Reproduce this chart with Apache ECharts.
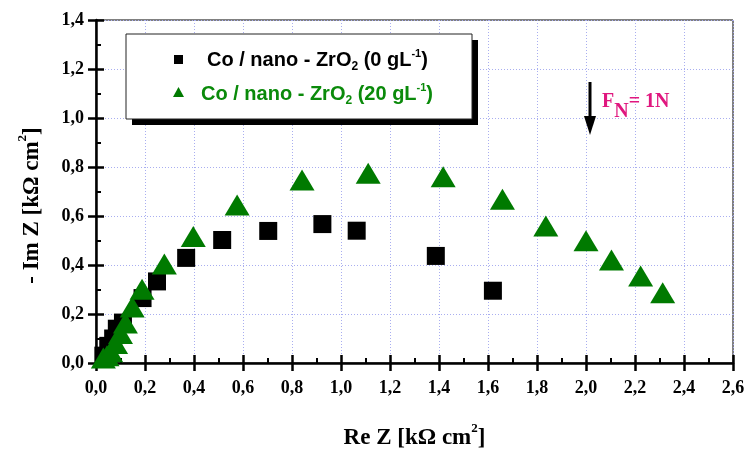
<!DOCTYPE html>
<html>
<head>
<meta charset="utf-8">
<script src="https://cdn.jsdelivr.net/npm/echarts@6/dist/echarts.min.js"></script>
<style>
  html, body { margin: 0; padding: 0; background: #fff; }
  #chart { width: 745px; height: 449px; }
</style>
</head>
<body>
<div id="chart"></div>
<script>
// Nyquist data: Re Z / -Im Z in kΩ cm²
const reZ_0 = [0.03, 0.05, 0.07, 0.085, 0.11, 0.19, 0.249, 0.368, 0.515, 0.703, 0.924, 1.064, 1.387, 1.62];
const imZ_0 = [0.03, 0.07, 0.10, 0.14, 0.165, 0.265, 0.333, 0.429, 0.502, 0.539, 0.567, 0.540, 0.437, 0.295];

const reZ_20 = [0.03, 0.045, 0.06, 0.08, 0.10, 0.12, 0.148, 0.188, 0.279, 0.397, 0.576, 0.841, 1.111, 1.417, 1.659, 1.836, 2.0, 2.104, 2.223, 2.313];
const imZ_20 = [0.02, 0.03, 0.046, 0.08, 0.12, 0.163, 0.229, 0.301, 0.404, 0.516, 0.645, 0.747, 0.774, 0.760, 0.668, 0.559, 0.499, 0.420, 0.355, 0.287];

const xTicks = { min: 0, max: 2.6, interval: 0.2 };
const yTicks = { min: 0, max: 1.4, interval: 0.2 };

const pairs = (xs, ys) => xs.map((x, i) => [x, ys[i]]);
const comma = v => v.toFixed(1).replace('.', ',');

const serif = 'Liberation Serif, Times New Roman, serif';
const serifBold = { fontFamily: serif, fontWeight: 'bold', color: '#000' };
const sansBold = 'Liberation Sans, Arial, sans-serif';
const gridLine = { show: true, lineStyle: { color: '#a9aef0', type: [1, 2], width: 1 } };

const nameRich = {
  t: { ...serifBold, fontSize: 23, verticalAlign: 'bottom', lineHeight: 28 },
  s: { ...serifBold, fontSize: 13, verticalAlign: 'top', padding: [0, 0, 10, 0] }
};

const chart = echarts.init(document.getElementById('chart'), null, { renderer: 'canvas' });

const option = {
  animation: false,
  backgroundColor: '#fff',
  grid: {
    left: 96, right: 12, top: 20, bottom: 86,
    outerBoundsMode: 'none', containLabel: false,
    show: true, borderColor: '#000', borderWidth: 1, backgroundColor: 'transparent'
  },
  xAxis: [
    {
      type: 'value', position: 'bottom', ...xTicks,
      axisLine: { show: true, lineStyle: { color: '#000', width: 2.5 } },
      axisTick: { show: true, inside: false, length: 8, lineStyle: { color: '#000', width: 2.5 } },
      minorTick: { show: false },
      axisLabel: { ...serifBold, fontSize: 18, margin: 16, formatter: comma },
      splitLine: gridLine,
      name: '{t|Re Z [kΩ cm}{s|2}{t|]}',
      nameLocation: 'middle', nameGap: 59,
      nameTextStyle: { rich: nameRich }
    },
    {
      type: 'value', position: 'bottom', ...xTicks,
      axisLine: { show: false },
      axisTick: { show: true, inside: true, length: 8, lineStyle: { color: '#000', width: 2.5 } },
      minorTick: { show: true, splitNumber: 2, length: 5, lineStyle: { color: '#000', width: 2 } },
      axisLabel: { show: false },
      splitLine: { show: false }
    }
  ],
  yAxis: [
    {
      type: 'value', position: 'left', ...yTicks,
      axisLine: { show: true, lineStyle: { color: '#000', width: 2.5 } },
      axisTick: { show: true, inside: false, length: 8, lineStyle: { color: '#000', width: 2.5 } },
      minorTick: { show: false },
      axisLabel: { ...serifBold, fontSize: 18, margin: 12, formatter: comma },
      splitLine: gridLine,
      name: '{t|- Im Z [kΩ cm}{s|2}{t|]}',
      nameLocation: 'middle', nameGap: 52, nameRotate: 90,
      nameTextStyle: { rich: nameRich, padding: [0, 28, 0, 0] }
    },
    {
      type: 'value', position: 'left', ...yTicks,
      axisLine: { show: false },
      axisTick: { show: true, inside: true, length: 8, lineStyle: { color: '#000', width: 2.5 } },
      minorTick: { show: true, splitNumber: 2, length: 5, lineStyle: { color: '#000', width: 2 } },
      axisLabel: { show: false },
      splitLine: { show: false }
    }
  ],
  series: [
    {
      name: 'Co / nano - ZrO2 (0 gL-1)',
      type: 'scatter',
      data: pairs(reZ_0, imZ_0),
      symbol: 'rect', symbolSize: 18,
      itemStyle: { color: '#000', opacity: 1 },
      z: 3
    },
    {
      name: 'Co / nano - ZrO2 (20 gL-1)',
      type: 'scatter',
      data: pairs(reZ_20, imZ_20),
      symbol: 'triangle', symbolSize: [25, 21],
      itemStyle: { color: '#007a00', opacity: 1 },
      z: 4
    }
  ],
  graphic: [
    // legend panel with drop shadow
    { type: 'rect', shape: { x: 132, y: 40, width: 346, height: 85 }, style: { fill: '#000' }, z: 100 },
    { type: 'rect', shape: { x: 126, y: 34, width: 346, height: 85 }, style: { fill: '#fff', stroke: '#222', lineWidth: 1 }, z: 101 },
    { type: 'rect', shape: { x: 174, y: 55, width: 9, height: 9 }, style: { fill: '#000' }, z: 102 },
    { type: 'polygon', shape: { points: [[178.5, 87], [173, 97], [184, 97]] }, style: { fill: '#007a00' }, z: 102 },
    {
      type: 'text', x: 207, y: 60, z: 102,
      style: {
        text: '{t|Co / nano - ZrO}{sub|2}{t| (0 gL}{sup|-1}{t|)}',
        verticalAlign: 'middle',
        rich: {
          t: { fontFamily: sansBold, fontWeight: 'bold', fontSize: 20, fill: '#000', lineHeight: 24 },
          sub: { fontFamily: sansBold, fontWeight: 'bold', fontSize: 12, fill: '#000', padding: [13, 0, 0, 0] },
          sup: { fontFamily: sansBold, fontWeight: 'bold', fontSize: 11, fill: '#000', padding: [0, 0, 13, 0] }
        }
      }
    },
    {
      type: 'text', x: 201, y: 94, z: 102,
      style: {
        text: '{t|Co / nano - ZrO}{sub|2}{t| (20 gL}{sup|-1}{t|)}',
        verticalAlign: 'middle',
        rich: {
          t: { fontFamily: sansBold, fontWeight: 'bold', fontSize: 20, fill: '#0a8a0a', lineHeight: 24 },
          sub: { fontFamily: sansBold, fontWeight: 'bold', fontSize: 12, fill: '#0a8a0a', padding: [13, 0, 0, 0] },
          sup: { fontFamily: sansBold, fontWeight: 'bold', fontSize: 11, fill: '#0a8a0a', padding: [0, 0, 13, 0] }
        }
      }
    },
    // normal force annotation
    { type: 'line', shape: { x1: 590, y1: 82, x2: 590, y2: 120 }, style: { stroke: '#000', lineWidth: 3 }, z: 102 },
    { type: 'polygon', shape: { points: [[584, 116], [596, 116], [590, 135]] }, style: { fill: '#000' }, z: 102 },
    {
      type: 'text', x: 602, y: 102, z: 102,
      style: {
        text: '{f|F}{n|N}{f|= 1N}',
        verticalAlign: 'middle',
        rich: {
          f: { fontFamily: serif, fontWeight: 'bold', fontSize: 20, fill: '#e0177f' },
          n: { fontFamily: serif, fontWeight: 'bold', fontSize: 20, fill: '#e0177f', padding: [20, 0, 0, 0] }
        }
      }
    }
  ]
};

chart.setOption(option);
</script>
</body>
</html>
